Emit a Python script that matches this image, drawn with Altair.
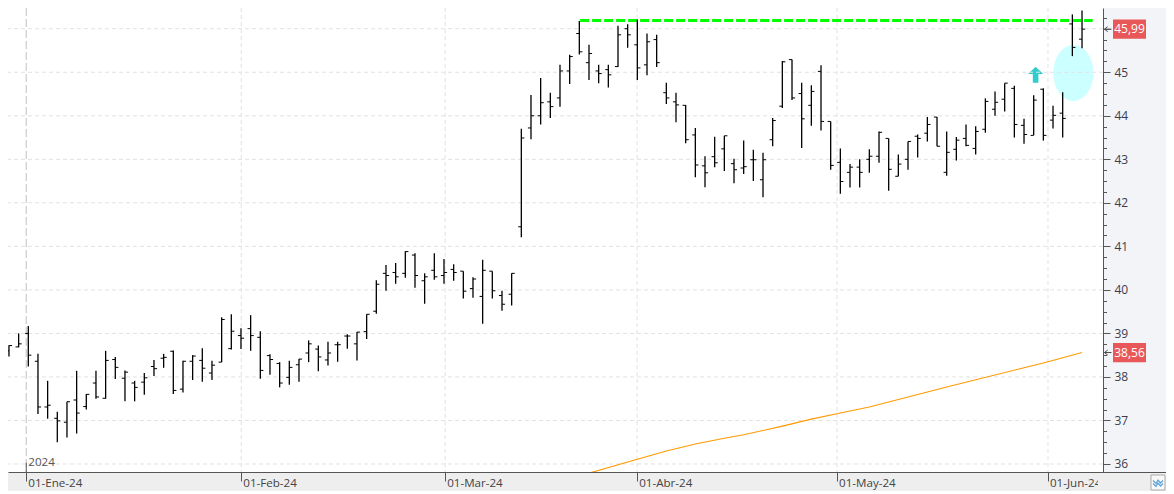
import altair as alt
import pandas as pd

highs = [38.73,39.00,39.17,38.53,37.91,37.20,37.43,38.14,37.61,38.14,
         38.60,38.46,38.15,37.91,38.09,38.39,38.53,38.61,38.37,38.50,
         38.66,38.37,39.37,39.44,39.12,39.42,39.05,38.52,38.34,38.37,
         38.41,38.84,38.72,38.81,38.81,38.98,39.03,39.44,40.22,40.57,
         40.62,40.89,40.84,40.38,40.84,40.71,40.59,40.43,40.29,40.69,
         40.43,39.98,40.38,43.70,44.48,44.87,44.53,45.17,45.40,46.18,
         45.63,45.17,45.17,46.07,46.10,46.21,45.89,45.86,44.76,44.53,
         44.25,43.72,43.07,43.52,43.54,43.01,43.43,43.22,43.15,43.95,
         45.26,45.29,44.76,44.70,45.16,43.87,43.25,42.89,43.00,43.23,
         43.64,43.48,43.11,43.41,43.57,43.97,43.97,43.64,43.51,43.80,
         43.76,44.40,44.56,44.75,44.69,43.93,44.47,44.63,44.23,44.54,46.33,46.42]
lows = [38.47,38.68,38.24,37.15,37.04,36.50,36.61,36.70,37.25,37.50,
        37.50,37.95,37.44,37.44,37.59,38.02,38.21,37.61,37.64,37.93,
        37.89,37.93,38.34,38.63,38.64,38.60,37.96,38.05,37.76,37.82,
        37.89,38.34,38.13,38.26,38.35,38.65,38.38,38.87,39.45,39.98,
        40.14,40.28,40.05,39.68,40.23,40.14,40.21,39.80,39.82,39.22,
        39.80,39.52,39.64,41.21,43.46,43.80,43.95,44.21,44.73,45.41,
        44.82,44.75,44.65,45.12,45.56,44.82,44.93,45.12,44.27,43.85,
        43.37,42.59,42.36,42.82,42.73,42.45,42.66,42.50,42.13,43.30,
        44.18,44.36,43.26,43.77,43.66,42.76,42.21,42.35,42.35,42.69,
        42.92,42.28,42.61,42.76,43.04,43.41,43.30,42.62,42.97,43.30,
        43.11,43.61,44.00,44.10,43.50,43.36,43.55,43.43,43.71,43.50,45.37,45.55]
opens = [38.60,38.69,39.00,38.36,37.31,37.05,36.96,37.47,37.32,37.86,
         37.51,38.40,37.97,37.86,37.88,38.24,38.43,38.59,37.72,38.36,
         38.38,38.09,38.34,38.65,38.95,39.11,38.91,38.49,38.31,37.99,
         38.28,38.55,38.64,38.39,38.74,38.94,38.76,39.04,39.51,40.38,
         40.40,40.38,40.80,40.21,40.45,40.33,40.47,40.43,40.03,39.85,
         40.43,39.87,39.90,41.45,43.72,44.00,44.32,44.41,45.03,45.89,
         45.22,45.03,45.06,45.13,46.00,45.63,45.17,45.75,44.53,44.32,
         44.24,43.56,42.85,43.06,43.24,42.90,42.80,42.99,42.53,43.45,
         44.22,45.29,44.51,44.24,45.02,43.87,42.93,42.70,42.82,43.00,
         43.07,43.48,42.61,43.00,43.53,43.60,43.97,42.70,43.23,43.48,
         43.25,43.69,44.15,44.38,44.63,43.78,43.55,44.61,43.90,44.06,46.11,45.76]
closes = [38.72,38.76,38.50,37.31,37.35,36.99,37.43,37.17,37.60,37.54,
          38.38,38.22,38.11,37.76,37.98,38.19,38.45,37.69,38.36,38.48,
          38.20,38.27,39.32,39.05,38.89,38.95,38.15,38.40,37.86,38.22,
          38.41,38.76,38.46,38.55,38.74,38.94,39.03,39.44,40.13,40.33,
          40.30,40.88,40.33,40.30,40.30,40.40,40.40,39.97,40.25,40.45,
          39.98,39.67,40.38,43.49,44.00,44.30,44.21,45.03,45.36,45.47,
          45.43,44.97,44.94,45.86,45.86,45.10,45.70,45.22,44.41,44.25,
          43.45,42.87,42.69,42.92,43.54,42.76,42.83,42.99,42.99,43.89,
          45.24,44.41,43.93,44.56,43.87,42.86,42.49,42.82,42.70,43.07,
          43.62,42.77,42.89,43.41,43.48,43.80,43.30,43.16,43.44,43.32,
          43.64,44.33,44.31,44.75,43.80,43.57,44.36,43.55,44.01,43.94,45.57,45.99]

ma_idx = [61, 66, 69, 72, 75, 77, 81, 84, 87, 90, 98, 106, 108, 112]
ma_val = [35.79, 36.11, 36.30, 36.46, 36.59, 36.67, 36.87, 37.03, 37.17, 37.31, 37.77, 38.21, 38.32, 38.56]

month_pos = [2.79, 25.03, 46.12, 65.98, 86.66, 108.48]
month_txt = ["01-Ene-24", "01-Feb-24", "01-Mar-24", "01-Abr-24", "01-May-24", "01-Jun-24"]
price_ticks = [q / 4 for q in range(144, 187)]
price_grid = list(range(36, 47))
last_prices = [45.99, 38.56]
last_txt = ["45,99", "38,56"]

FONT = "Open Sans"
xs = alt.Scale(domain=[0.90, 114.17], nice=False, zero=False)
ys = alt.Scale(domain=[35.816, 46.476], nice=False, zero=False)
# one axis definition shared by all layers, Vega-Lite merges them
x_axis = alt.Axis(
    values=month_pos, labels=False, title=None, grid=False, tickSize=9,
    tickColor="#555555", domainColor="#555555", zindex=1)
y_axis = alt.Axis(
    orient="right", values=price_ticks, title=None, grid=False,
    tickSize={"condition": {"test": "datum.value % 1 === 0", "value": 7}, "value": 3.5},
    tickColor="#555555", domainColor="#555555", labelColor="#3c3c4c",
    labelFont=FONT, labelFontSize=12, labelPadding=4, labelFlush=False,
    labelExpr="datum.value % 1 === 0 && datum.value < 46 ? format(datum.value, 'd') : ''",
    zindex=1)
X = alt.X("i:Q", scale=xs, axis=x_axis)
Y = alt.Y("v:Q", scale=ys, axis=y_axis)

ohlc = pd.DataFrame({
    "i": range(1, len(highs) + 1),
    "high": highs, "low": lows, "open": opens, "close": closes,
})
months = pd.DataFrame({"i": month_pos, "txt": month_txt})
hgrid = pd.DataFrame({"v": price_grid})
one = pd.DataFrame({"a": [0]})


def box(x1, x2, y1, y2, fill, stroke=None):
    # chrome of the trading window: strips, button
    opts = {"fill": fill}
    if stroke:
        opts["stroke"] = stroke
    return alt.Chart(one).mark_rect(**opts).encode(
        x=alt.value(x1), x2=alt.value(x2), y=alt.value(y1), y2=alt.value(y2)
    )


def symbol(i, v, path, size, **style):
    d = pd.DataFrame({"i": [i], "v": [v]})
    return alt.Chart(d).mark_point(shape=path, size=size, **style).encode(x=X, y=Y)


strip_bottom = box(-8, 1166, 464, 483, "#eeeeee")
strip_right = box(1096, 1166, -8, 464, "#f2f4f8")
strip_line = box(1095, 1166, 464, 465, "#555555")
label_cut = box(1090, 1096, 465, 483, "#eeeeee")

ellipse = symbol(111.1, 44.98, "M -0.714 0 A 0.714 1 0 1 1 0.714 0 A 0.714 1 0 1 1 -0.714 0 Z",
                 3136, filled=True, color="#ccffff", opacity=1)
arrow = symbol(107.2, 44.94,
               "M 0 -1 L 0.95 -0.1 L 0.35 -0.1 L 0.35 1 L -0.35 1 L -0.35 -0.1 L -0.95 -0.1 Z",
               256, filled=True, color="#33cccc", opacity=1)

grid_h = alt.Chart(hgrid).mark_rule(color="#e2e2e2", strokeDash=[4, 3], strokeWidth=1).encode(y=Y)
grid_v = alt.Chart(months[months.i > 10]).mark_rule(
    color="#e2e2e2", strokeDash=[4, 3], strokeWidth=1).encode(x=X)
year_line = alt.Chart(months[months.i < 10]).mark_rule(
    color="#cccccc", strokeDash=[8, 3], strokeWidth=1.2).encode(x=X)
year_tick = alt.Chart(pd.DataFrame({"i": month_pos[:1], "v": [36.03], "v2": [35.816]})).mark_rule(
    color="#555555").encode(x=X, y=Y, y2="v2:Q")

ma_line = alt.Chart(pd.DataFrame({"i": ma_idx, "v": ma_val})).mark_line(
    color="#ff9900", strokeWidth=1.1, clip=True).encode(x=X, y=Y)
resist = alt.Chart(pd.DataFrame({"i": [60.08, 113.1], "v": [46.19, 46.19]})).mark_line(
    color="#00ff00", strokeWidth=3, strokeDash=[9, 3]).encode(x=X, y=Y)

bars = alt.Chart(ohlc).mark_rule(color="black", strokeWidth=1.3).encode(
    x=X, y=alt.Y("low:Q", scale=ys, axis=y_axis), y2="high:Q",
)
tick_open = alt.Chart(ohlc).transform_calculate(left="datum.i - 0.32").mark_rule(
    color="black", strokeWidth=1).encode(x=X, x2="left:Q", y=alt.Y("open:Q", scale=ys, axis=y_axis))
tick_close = alt.Chart(ohlc).transform_calculate(right="datum.i + 0.32").mark_rule(
    color="black", strokeWidth=1).encode(x=X, x2="right:Q", y=alt.Y("close:Q", scale=ys, axis=y_axis))

month_labels = alt.Chart(months).mark_text(
    align="left", baseline="middle", dx=2, font=FONT, fontSize=11.6, color="#444444"
).encode(x=X, y=alt.value(476), text="txt:N")
year_label = alt.Chart(pd.DataFrame({"i": month_pos[:1], "t": ["2024"]})).mark_text(
    align="left", baseline="middle", dx=2, font=FONT, fontSize=11.6, color="#555555"
).encode(x=X, y=alt.value(455), text="t:N")

price_df = pd.DataFrame({"v": last_prices, "t": last_txt})
price_box = alt.Chart(price_df).mark_point(
    shape="M -1 -0.58 L 1 -0.58 L 1 0.58 L -1 0.58 Z", size=1089, filled=True, color="#e85858", opacity=1
).encode(x=alt.value(1121.5), y=Y)
price_txt = alt.Chart(price_df).mark_text(
    align="center", baseline="middle", font=FONT, fontSize=12, color="white"
).encode(x=alt.value(1121.5), y=Y, text="t:N")
price_arrow = alt.Chart(price_df).mark_point(
    shape="M -1 0 L 1 0 M -0.1 -0.7 L -1 0 L -0.1 0.7", size=49, color="#444444", strokeWidth=1, opacity=1
).encode(x=alt.value(1100), y=Y)

btn = box(1143, 1157, 467, 482, "#f8f8f8", "#aaaaaa")
btn_icon = alt.Chart(one).mark_point(
    shape="M -1 -0.3 L -0.4 0.3 L 0 -0.4 L 0.5 0.2 L 1 -0.3 M -1 0.3 L -0.4 0.9 L 0 0.2 L 0.5 0.8 L 1 0.3",
    size=100, color="#5ba3d9", strokeWidth=1.2, opacity=1
).encode(x=alt.value(1150), y=alt.value(474))

chart = alt.layer(
    strip_bottom, strip_right, ellipse, arrow, grid_h, grid_v, year_line, year_tick,
    ma_line, resist, bars, tick_open, tick_close, month_labels, year_label,
    label_cut, strip_line, price_box, price_txt, price_arrow, btn, btn_icon,
).properties(
    width=1095, height=464,
    autosize=alt.AutoSizeParams(type="none"),
    padding={"left": 0, "top": 0, "right": 63, "bottom": 22},
    background="white",
).configure_view(stroke=None)

chart.save("out.html", embed_options={"renderer": "svg", "actions": False})
